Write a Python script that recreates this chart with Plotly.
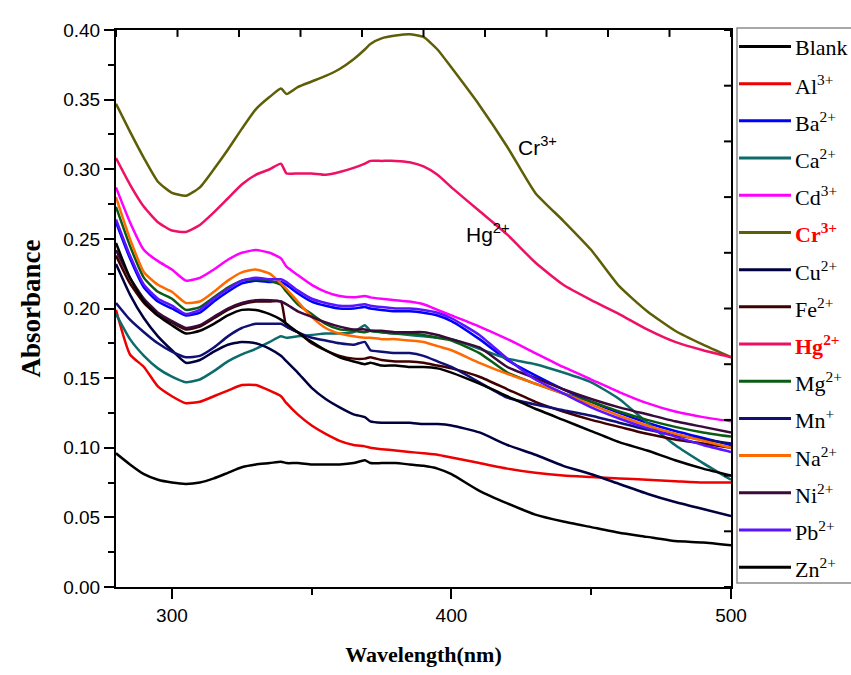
import plotly.graph_objects as go

# ---------------- data ----------------
wavelength = [280, 285, 290, 295, 300, 305, 310, 315, 320, 325, 330, 335, 339, 341, 345, 350,
              355, 360, 365, 369, 371, 375, 380, 385, 390, 395, 400, 410, 420, 430, 440, 450,
              460, 470, 480, 490, 500]

series_names = ["Blank", "Al<sup>3+</sup>", "Ba<sup>2+</sup>", "Ca<sup>2+</sup>", "Cd<sup>3+</sup>",
                "Cr<sup>3+</sup>", "Cu<sup>2+</sup>", "Fe<sup>2+</sup>", "Hg<sup>2+</sup>",
                "Mg<sup>2+</sup>", "Mn<sup>+</sup>", "Na<sup>2+</sup>", "Ni<sup>2+</sup>",
                "Pb<sup>2+</sup>", "Zn<sup>2+</sup>"]

blank = [0.096, 0.088, 0.081, 0.077, 0.075, 0.074, 0.075, 0.078, 0.082, 0.086, 0.088, 0.089, 0.090, 0.089, 0.089, 0.088,
         0.088, 0.088, 0.089, 0.091, 0.089, 0.089, 0.089, 0.088, 0.087, 0.085, 0.081, 0.069, 0.060, 0.052, 0.047, 0.043,
         0.039, 0.036, 0.033, 0.032, 0.030]
al = [0.199, 0.167, 0.158, 0.144, 0.137, 0.132, 0.133, 0.137, 0.141, 0.145, 0.145, 0.141, 0.137, 0.132, 0.124, 0.116,
      0.110, 0.105, 0.102, 0.101, 0.100, 0.099, 0.098, 0.097, 0.096, 0.095, 0.093, 0.089, 0.085, 0.082, 0.080, 0.079,
      0.078, 0.077, 0.076, 0.075, 0.075]
ba = [0.262, 0.236, 0.215, 0.205, 0.200, 0.195, 0.197, 0.205, 0.212, 0.218, 0.220, 0.219, 0.219, 0.217, 0.211, 0.205,
      0.202, 0.200, 0.200, 0.201, 0.200, 0.199, 0.198, 0.198, 0.197, 0.195, 0.191, 0.178, 0.163, 0.152, 0.142, 0.133,
      0.125, 0.118, 0.112, 0.107, 0.102]
ca = [0.196, 0.178, 0.166, 0.157, 0.151, 0.147, 0.149, 0.155, 0.162, 0.167, 0.171, 0.176, 0.180, 0.179, 0.180, 0.181,
      0.182, 0.182, 0.183, 0.188, 0.184, 0.183, 0.182, 0.181, 0.180, 0.179, 0.178, 0.171, 0.164, 0.160, 0.154, 0.147,
      0.135, 0.118, 0.102, 0.089, 0.077]
cd = [0.287, 0.262, 0.242, 0.234, 0.228, 0.220, 0.222, 0.228, 0.235, 0.240, 0.242, 0.240, 0.236, 0.230, 0.224, 0.217,
      0.212, 0.209, 0.208, 0.209, 0.208, 0.207, 0.206, 0.205, 0.203, 0.199, 0.195, 0.187, 0.178, 0.168, 0.158, 0.149,
      0.140, 0.132, 0.126, 0.122, 0.119]
cr = [0.347, 0.327, 0.308, 0.291, 0.283, 0.281, 0.287, 0.300, 0.314, 0.329, 0.343, 0.352, 0.358, 0.354, 0.359, 0.363,
      0.367, 0.372, 0.379, 0.386, 0.390, 0.394, 0.396, 0.397, 0.395, 0.386, 0.373, 0.346, 0.316, 0.283, 0.263, 0.242,
      0.216, 0.198, 0.184, 0.174, 0.165]
cu = [0.232, 0.210, 0.193, 0.180, 0.170, 0.161, 0.163, 0.169, 0.174, 0.176, 0.175, 0.171, 0.166, 0.162, 0.154, 0.143,
      0.135, 0.129, 0.124, 0.122, 0.119, 0.118, 0.118, 0.118, 0.117, 0.117, 0.116, 0.111, 0.102, 0.095, 0.087, 0.081,
      0.074, 0.067, 0.061, 0.056, 0.051]
fe = [0.238, 0.218, 0.204, 0.195, 0.190, 0.185, 0.187, 0.193, 0.199, 0.203, 0.205, 0.205, 0.205, 0.187, 0.183, 0.175,
      0.170, 0.166, 0.164, 0.164, 0.165, 0.163, 0.162, 0.162, 0.161, 0.159, 0.157, 0.151, 0.142, 0.133, 0.126, 0.120,
      0.115, 0.110, 0.106, 0.103, 0.100]
hg = [0.308, 0.289, 0.273, 0.262, 0.256, 0.255, 0.260, 0.269, 0.279, 0.289, 0.296, 0.300, 0.304, 0.297, 0.297, 0.297,
      0.296, 0.298, 0.301, 0.304, 0.306, 0.306, 0.306, 0.305, 0.302, 0.296, 0.287, 0.270, 0.253, 0.233, 0.217, 0.206,
      0.196, 0.185, 0.176, 0.170, 0.165]
mg = [0.273, 0.245, 0.222, 0.212, 0.207, 0.199, 0.201, 0.208, 0.215, 0.220, 0.221, 0.220, 0.217, 0.212, 0.203, 0.196,
      0.189, 0.185, 0.184, 0.183, 0.184, 0.183, 0.182, 0.182, 0.181, 0.179, 0.177, 0.168, 0.154, 0.146, 0.139, 0.133,
      0.126, 0.120, 0.115, 0.111, 0.108]
mn = [0.204, 0.192, 0.183, 0.175, 0.169, 0.165, 0.166, 0.172, 0.180, 0.186, 0.189, 0.189, 0.189, 0.187, 0.183, 0.179,
      0.177, 0.175, 0.174, 0.176, 0.170, 0.169, 0.168, 0.168, 0.166, 0.162, 0.158, 0.147, 0.136, 0.131, 0.127, 0.123,
      0.118, 0.113, 0.109, 0.106, 0.103]
na = [0.280, 0.250, 0.226, 0.217, 0.212, 0.204, 0.205, 0.212, 0.220, 0.226, 0.228, 0.225, 0.218, 0.214, 0.205, 0.194,
      0.186, 0.182, 0.180, 0.179, 0.179, 0.178, 0.178, 0.177, 0.176, 0.173, 0.170, 0.161, 0.153, 0.146, 0.139, 0.131,
      0.123, 0.116, 0.110, 0.105, 0.100]
ni = [0.242, 0.222, 0.207, 0.197, 0.191, 0.186, 0.188, 0.194, 0.200, 0.204, 0.206, 0.206, 0.205, 0.203, 0.198, 0.194,
      0.190, 0.187, 0.185, 0.185, 0.184, 0.184, 0.183, 0.183, 0.183, 0.181, 0.178, 0.172, 0.158, 0.150, 0.142, 0.135,
      0.129, 0.124, 0.119, 0.115, 0.111]
pb = [0.264, 0.238, 0.217, 0.207, 0.202, 0.196, 0.199, 0.207, 0.214, 0.220, 0.222, 0.221, 0.221, 0.219, 0.213, 0.207,
      0.204, 0.202, 0.202, 0.203, 0.202, 0.201, 0.200, 0.200, 0.199, 0.197, 0.193, 0.181, 0.164, 0.149, 0.139, 0.129,
      0.121, 0.114, 0.108, 0.102, 0.097]
zn = [0.247, 0.222, 0.205, 0.195, 0.188, 0.182, 0.184, 0.189, 0.195, 0.199, 0.199, 0.196, 0.192, 0.189, 0.183, 0.176,
      0.170, 0.165, 0.162, 0.160, 0.161, 0.159, 0.159, 0.158, 0.158, 0.157, 0.154, 0.146, 0.137, 0.128, 0.120, 0.112,
      0.104, 0.098, 0.091, 0.085, 0.080]

series_values = [blank, al, ba, ca, cd, cr, cu, fe, hg, mg, mn, na, ni, pb, zn]
series_colors = ["#000000", "#EE0000", "#0000FF", "#0E6B6B", "#FF00FF", "#5E5E06", "#000040", "#400000",
                 "#EE1064", "#0A5C14", "#101075", "#FF6A00", "#3A0A3A", "#5A14FF", "#000000"]
highlight = {"Cr<sup>3+</sup>", "Hg<sup>2+</sup>"}

x_ticks = [300, 400, 500]
y_ticks = [0.00, 0.05, 0.10, 0.15, 0.20, 0.25, 0.30, 0.35, 0.40]
frame_divisions = 10          # Origin-style unlabeled inward ticks on the top / right frame

# ---------------- layout geometry ----------------
W, H = 851, 675
ML, MR, MT, MB = 116, 120, 30, 79
PW, PH = W - ML - MR, H - MT - MB

def px(xp):
    return (xp - ML) / PW

def py(yp):
    return (H - MB - yp) / PH

serif = "Times New Roman, Liberation Serif, serif"
sans = "Arial, Liberation Sans, sans-serif"

fig = go.Figure()
for name, vals, col in zip(series_names, series_values, series_colors):
    fig.add_trace(go.Scatter(x=wavelength, y=vals, mode="lines", name=name,
                             line=dict(color=col, width=2.5, shape="spline", smoothing=0.5),
                             showlegend=False))

fig.update_layout(
    width=W, height=H,
    margin=dict(l=ML, r=MR, t=MT, b=MB, pad=0),
    paper_bgcolor="white", plot_bgcolor="white",
    showlegend=False,
    xaxis=dict(range=[280, 500], tickvals=x_ticks, ticks="outside", ticklen=10, tickwidth=2,
               tickcolor="black", showline=True, mirror=True, linecolor="black", linewidth=2,
               showgrid=False, zeroline=False,
               minor=dict(dtick=50, tick0=300, ticks="outside", ticklen=6, tickwidth=2, tickcolor="black"),
               tickfont=dict(family=sans, size=19, color="black"),
               title=dict(text="Wavelength(nm)", standoff=22,
                          font=dict(family=serif, size=22, color="black", weight="bold"))),
    yaxis=dict(range=[0, 0.40], tickvals=y_ticks, tickformat=".2f", ticks="outside", ticklen=10,
               tickwidth=2, tickcolor="black", showline=True, mirror=True, linecolor="black", linewidth=2,
               showgrid=False, zeroline=False,
               minor=dict(dtick=0.025, tick0=0, ticks="outside", ticklen=6, tickwidth=2, tickcolor="black"),
               tickfont=dict(family=sans, size=19, color="black"),
               title=dict(text="Absorbance", standoff=15,
                          font=dict(family=serif, size=27, color="black", weight="bold"))),
)

# inward frame ticks on top and right edges (frame decoration, evenly divided)
tick_len = 7
for k in range(frame_divisions + 1):
    f = k / frame_divisions
    fig.add_shape(type="line", xref="paper", yref="paper", x0=f, x1=f, y0=1, y1=1 - tick_len / PH,
                  line=dict(color="black", width=2), layer="above")
    fig.add_shape(type="line", xref="paper", yref="paper", x0=1, x1=1 - tick_len / PW, y0=f, y1=f,
                  line=dict(color="black", width=2), layer="above")

# curve labels
fig.add_annotation(x=430.7, y=0.317, xref="x", yref="y", text="Cr<sup>3+</sup>", showarrow=False,
                   font=dict(family=sans, size=21, color="black"), xanchor="center", yanchor="middle")
fig.add_annotation(x=412.9, y=0.254, xref="x", yref="y", text="Hg<sup>2+</sup>", showarrow=False,
                   font=dict(family=sans, size=21, color="black"), xanchor="center", yanchor="middle")

# legend box (drawn manually to match the original layout)
fig.add_shape(type="rect", xref="paper", yref="paper", x0=px(737), x1=px(870), y0=py(592), y1=py(28),
              line=dict(color="#8C8C8C", width=1.5), fillcolor="rgba(0,0,0,0)", layer="above")
row0, step = 46.7, 37.8
for i, (name, col) in enumerate(zip(series_names, series_colors)):
    yy = row0 + step * i
    fig.add_shape(type="line", xref="paper", yref="paper", x0=px(739), x1=px(791),
                  y0=py(yy), y1=py(yy), line=dict(color=col, width=3), layer="above")
    if name in highlight:
        txt, fcol = "<b>" + name + "</b>", "#FF0000"
    else:
        txt, fcol = name, "black"
    fig.add_annotation(x=px(793), y=py(yy + 1), xref="paper", yref="paper", text=txt, showarrow=False,
                       xanchor="left", yanchor="middle",
                       font=dict(family=serif, size=22, color=fcol))

fig.write_html("out.html")
